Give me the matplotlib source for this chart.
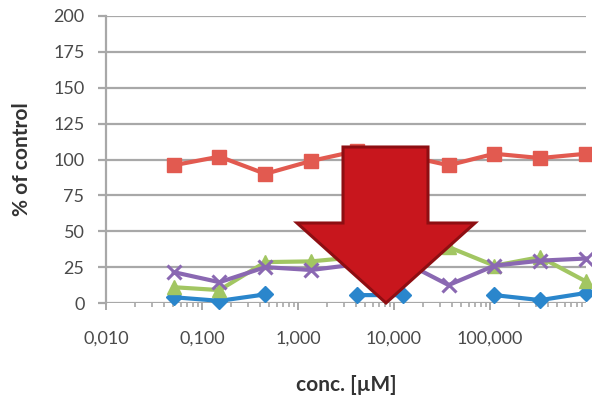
import numpy as np
import matplotlib
matplotlib.use("Agg")
import matplotlib.pyplot as plt
from matplotlib.patches import Polygon
from matplotlib.ticker import FixedLocator, LogLocator, NullFormatter

# 3-fold serial dilution, highest concentration 1000 µM
conc = [0.0508, 0.152, 0.457, 1.372, 4.115, 12.35, 37.04, 111.1, 333.3, 1000.0]

series_blue = [4, 1.5, 6, np.nan, 5.5, 5.5, np.nan, 5.5, 2, 7]
series_red = [96, 102, 90, 99, 106, 103, 96, 104, 101, 104]
series_green = [11, 9, 28.5, 29, 32, 36, 39, 26, 32, 15]
series_purple = [21.5, 14.5, 25, 23, 27, 29, 12.5, 26, 29.5, 31]

x_tick_values = [0.01, 0.1, 1, 10, 100]
x_tick_labels = ["0,010", "0,100", "1,000", "10,000", "100,000"]
y_tick_values = [0, 25, 50, 75, 100, 125, 150, 175, 200]

plt.rcParams["font.family"] = ["Lato", "DejaVu Sans"]

W, H = 592, 398
fig = plt.figure(figsize=(W / 100, H / 100), dpi=100)
ax = fig.add_axes([106 / W, 1 - 303 / H, 480 / W, 287 / H])

ax.set_xscale("log")
ax.set_xlim(0.01, 1000)
ax.set_ylim(0, 200)

grid_col = "#a8a8a8"
tick_col = "#4a4a4a"
ax.set_yticks(y_tick_values)
ax.yaxis.grid(True, color=grid_col, linewidth=1.6)
ax.set_axisbelow(True)
for side in ("top", "right", "bottom"):
    ax.spines[side].set_visible(False)
ax.spines["left"].set_color(grid_col)
ax.spines["left"].set_linewidth(1.6)

ax.xaxis.set_major_locator(FixedLocator(x_tick_values))
ax.set_xticklabels(x_tick_labels)
ax.xaxis.set_minor_locator(LogLocator(base=10, subs=np.arange(2, 10), numticks=20))
ax.xaxis.set_minor_formatter(NullFormatter())
ax.tick_params(axis="x", which="major", length=5, width=1.4, color=grid_col,
               pad=15, labelsize=13, labelcolor=tick_col)
ax.tick_params(axis="x", which="minor", length=3, width=1.2, color=grid_col)
ax.tick_params(axis="y", which="major", length=6, width=1.6, color=grid_col,
               pad=9.5, labelsize=13, labelcolor=tick_col)

styles = [
    (series_blue, "#2a86cc", "D", 8, 1.0),
    (series_red, "#e25a50", "s", 10, 1.0),
    (series_green, "#a2c662", "^", 10, 1.0),
    (series_purple, "#8a68b2", "x", 10, 2.2),
]
for vals, col, mk, ms, mew in styles:
    ax.plot(conc, vals, color=col, linewidth=3, marker=mk, markersize=ms,
            markeredgewidth=mew, markeredgecolor=col, markerfacecolor=col,
            clip_on=False, zorder=3)

ax.set_ylabel("% of control", fontsize=15, fontweight="bold", color="#333333",
              va="center")
ax.yaxis.set_label_coords(-(106 - 22) / 480, 0.5)
ax.set_xlabel("conc. [µM]", fontsize=15, fontweight="bold", color="#333333",
              va="center")
ax.xaxis.set_label_coords((346 - 106) / 480, -(385 - 303) / 287)

# downward arrow overlay
arrow_px = [(343, 147), (428, 147), (428, 223), (475, 223), (386, 303),
            (297, 223), (343, 223)]
arrow_fig = [(x / W, 1 - y / H) for x, y in arrow_px]
fig.patches.append(Polygon(arrow_fig, closed=True, transform=fig.transFigure,
                           facecolor="#c8161d", edgecolor="#8e0e12",
                           linewidth=2.2, joinstyle="miter", zorder=10))

fig.savefig("out.png", dpi=100)
